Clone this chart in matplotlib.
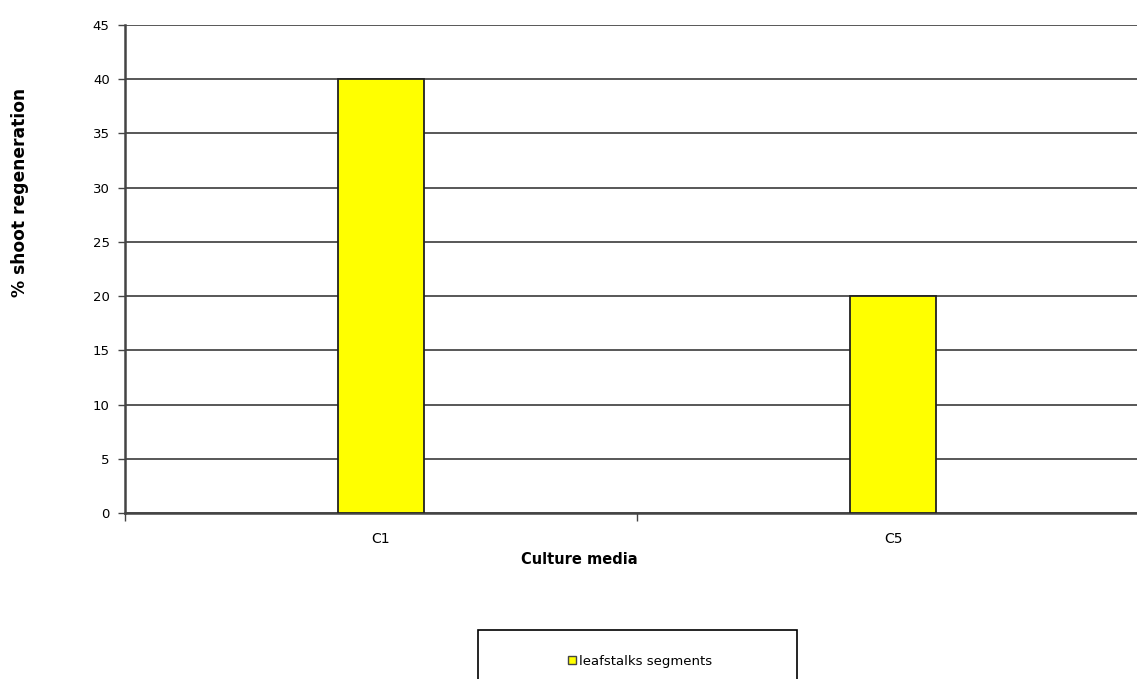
import matplotlib
matplotlib.use("Agg")
import matplotlib.pyplot as plt
from matplotlib.patches import Rectangle
from matplotlib.lines import Line2D

categories = ["C1", "C5"]
values = [40, 20]
series_name = "leafstalks segments"
y_ticks = [0, 5, 10, 15, 20, 25, 30, 35, 40, 45]

plt.rcParams['font.family'] = ['DejaVu Sans']

W, H = 1137, 679
fig = plt.figure(figsize=(W/100, H/100), dpi=100)
ax = fig.add_axes([125/W, 1-513/H, 1024/W, 488/H])

x = list(range(len(categories)))
ax.bar(x, values, width=0.168, color='#FFFF00', edgecolor='#222222', linewidth=1.3, zorder=3)

ax.set_xlim(-0.5, len(categories)-0.5)
ax.set_ylim(0, 45)
ax.set_yticks(y_ticks)
ax.set_yticklabels([str(t) for t in y_ticks], fontsize=9.5)
ax.yaxis.grid(True, color='#4a4a4a', linewidth=1.3, zorder=0)
ax.set_axisbelow(True)

ax.set_xticks(x)
ax.set_xticklabels(categories, fontsize=10)
ax.tick_params(axis='x', length=0, pad=14)
ax.set_xticks([i + 0.5 for i in range(-1, len(categories))], minor=True)
ax.tick_params(axis='x', which='minor', length=6, width=1, color='#444444', direction='out')
ax.tick_params(axis='y', length=5, width=1, color='#444444', pad=6)

for s in ['top', 'right']:
    ax.spines[s].set_visible(False)
ax.spines['left'].set_color('#444444')
ax.spines['left'].set_linewidth(1.8)
ax.spines['bottom'].set_color('#444444')
ax.spines['bottom'].set_linewidth(1.8)

fig.text(579/W, 1-559/H, "Culture media", ha='center', va='center', fontsize=10.5, fontweight='bold')
fig.text(20/W, 1-192/H, "% shoot regeneration", ha='center', va='center', rotation=90, fontsize=12.3, fontweight='bold')

# legend box
fig.patches.append(Rectangle((478/W, 1-700/H), 319/W, 70/H, transform=fig.transFigure,
                             facecolor='white', edgecolor='black', linewidth=1.2))
handle = Line2D([], [], marker='s', color='none', markerfacecolor='#FFFF00',
                markeredgecolor='#444444', markersize=6, linestyle='none')
fig.legend([handle], [series_name], loc='center', bbox_to_anchor=(640/W, 1-661/H),
           frameon=False, fontsize=9.5, handlelength=0.6, handletextpad=0.2)

fig.savefig("out.png", dpi=100)
